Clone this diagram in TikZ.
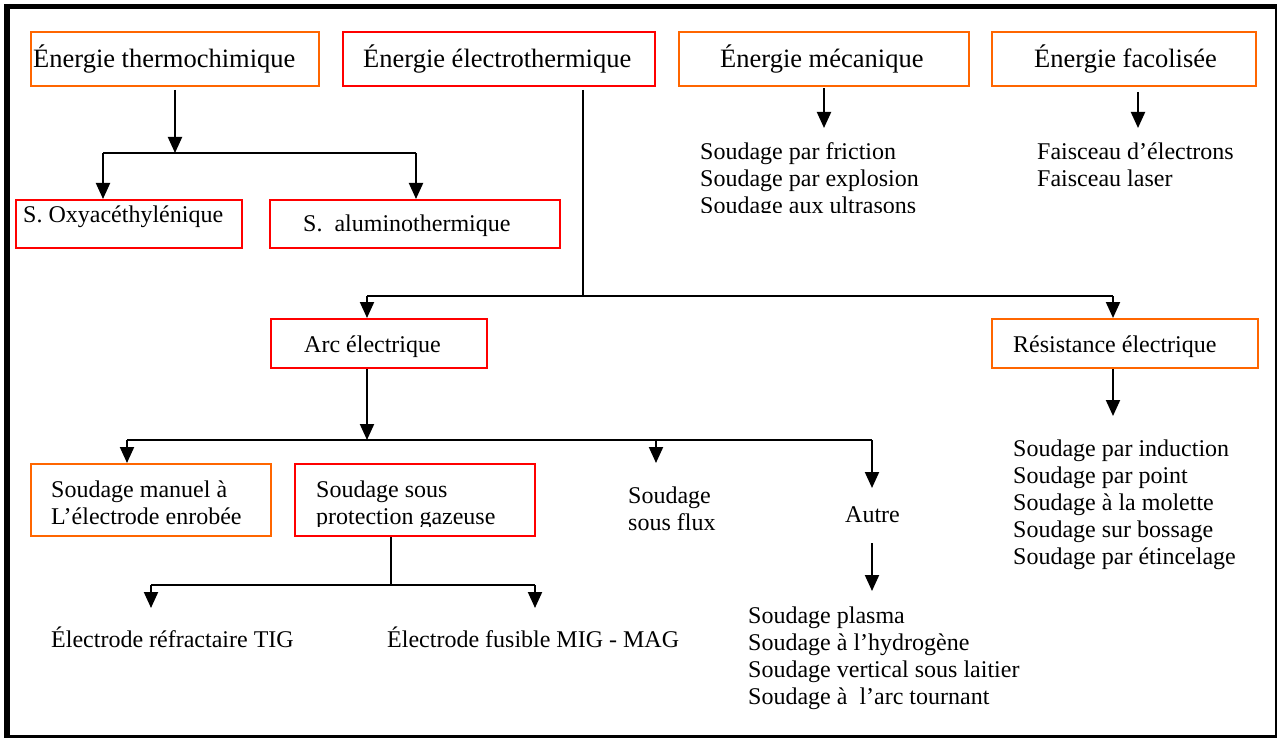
\documentclass[tikz,border=0pt]{standalone}
\usepackage{fontspec}
\setmainfont{Liberation Serif}
\usetikzlibrary{arrows.meta}
\definecolor{bred}{RGB}{255,0,0}
\definecolor{borange}{RGB}{255,102,0}
\newcommand\titlefnt{\fontsize{26.5}{30}\selectfont}
\newcommand\bodyfnt{\fontsize{24}{27}\selectfont}
\newcommand\mylines[1]{\begin{tabular}[t]{@{}l@{}}#1\end{tabular}}
\renewcommand{\arraystretch}{1}
\begin{document}
\begin{tikzpicture}[x=1pt,y=-1pt,
  box/.style={draw=#1, line width=2pt, inner sep=0pt},
  ttl/.style={anchor=base west, inner sep=0pt, font=\titlefnt},
  txt/.style={anchor=base west, inner sep=0pt, font=\bodyfnt},
  conn/.style={line width=2pt},
  thin/.style={line width=1.5pt},
  arr/.style={line width=2pt, -{Triangle[length=16pt,width=14pt]}}]
\useasboundingbox (0,0) rectangle (1277,738);
% frame
\draw[line width=6pt] (7,4) -- (7,738);
\draw[line width=5pt] (4,7) -- (1277,7);
\draw[line width=2pt] (1276,7) -- (1276,738);
\draw[line width=3pt] (4,736.5) -- (1277,736.5);
% boxes
\node[box=borange, minimum width=288pt, minimum height=54pt] (thermo) at (175,59) {};
\node[box=bred, minimum width=312pt, minimum height=54pt] (electro) at (499,59) {};
\node[box=borange, minimum width=290pt, minimum height=54pt] (meca) at (824,59) {};
\node[box=borange, minimum width=264pt, minimum height=54pt] (faco) at (1124,59) {};
\node[box=bred, minimum width=226pt, minimum height=48pt] (oxy) at (129,224) {};
\node[box=bred, minimum width=290pt, minimum height=48pt] (alu) at (415,224) {};
\node[box=bred, minimum width=216pt, minimum height=49pt] (arc) at (379,343.5) {};
\node[box=borange, minimum width=266pt, minimum height=49pt] (resist) at (1125,343.5) {};
\node[box=borange, minimum width=240pt, minimum height=72pt] (manuel) at (151,500) {};
\node[box=bred, minimum width=240pt, minimum height=72pt] (protec) at (415,500) {};
% texts
\node[ttl] (thermoT) at (33,68) {Énergie thermochimique};
\node[ttl] (electroT) at (363,68) {Énergie électrothermique};
\node[ttl] (mecaT) at (720,68) {Énergie mécanique};
\node[ttl] (facoT) at (1034,68) {Énergie facolisée};
\node[txt] (oxyT) at (23,223) {S. Oxyacéthylénique};
\node[txt] (aluT) at (303,232) {S.\ \ aluminothermique};
\node[txt] (arcT) at (304,352) {Arc électrique};
\node[txt] (resistT) at (1013,352) {Résistance électrique};
\node[txt] (manuelT) at (51,497) {\mylines{Soudage manuel à\\L’électrode enrobée}};
\begin{scope}
\clip (300,470) rectangle (530,526);
\node[txt] (protecT) at (316,497) {\mylines{Soudage sous\\protection gazeuse}};
\end{scope}
\node[txt] (fluxT) at (628,503) {\mylines{Soudage\\sous flux}};
\node[txt] (autreT) at (845,522) {Autre};
\begin{scope}
\clip (690,130) rectangle (1000,213);
\node[txt] (mecaL) at (700,160) {\mylines{Soudage par friction\\Soudage par explosion\\Soudage aux ultrasons}};
\end{scope}
\node[txt] (facoL) at (1037,160) {\mylines{Faisceau d’électrons\\Faisceau laser}};
\node[txt] (resistL) at (1013,456) {\mylines{Soudage par induction\\Soudage par point\\Soudage à la molette\\Soudage sur bossage\\Soudage par étincelage}};
\node[txt] (autreL) at (748,623) {\mylines{Soudage plasma\\Soudage à l’hydrogène\\Soudage vertical sous laitier\\Soudage à \ l’arc tournant}};
\node[txt] (tigT) at (51,647) {Électrode réfractaire TIG};
\node[txt] (migT) at (387,647) {Électrode fusible MIG - MAG};
% junction coordinates
\coordinate (j1) at (175,153);
\coordinate (j1a) at (103,153);
\coordinate (j1b) at (416,153);
\coordinate (j2) at (583,296);
\coordinate (j2a) at (367,296);
\coordinate (j2b) at (1113,296);
\coordinate (j3) at (367,440);
\coordinate (j3a) at (127,440);
\coordinate (j3b) at (656,440);
\coordinate (j3c) at (872,440);
\coordinate (fluxA) at (656,463);
\coordinate (autreA) at (872,488);
\coordinate (resA) at (1113,416);
\coordinate (au1) at (872,543);
\coordinate (au2) at (872,591);
\coordinate (me1) at (824,88);
\coordinate (me2) at (824,128);
\coordinate (fa1) at (1138,92);
\coordinate (fa2) at (1138,128);
\coordinate (j4) at (391,585);
\coordinate (j4a) at (151,585);
\coordinate (j4b) at (535,585);
\coordinate (tigA) at (151,608);
\coordinate (migA) at (535,608);
% connectors
\draw[arr] ([yshift=-3pt]thermo.south) -- (j1);
\draw[conn] (j1a) -- (j1b);
\draw[arr] (j1a) -- (j1a |- oxy.north);
\draw[arr] (j1b) -- (j1b |- alu.north);
\draw[thin] ([yshift=-3pt]electro.south -| j2) -- (j2);
\draw[conn] (j2a) -- (j2b);
\draw[arr] (j2a) -- (j2a |- arc.north);
\draw[arr] (j2b) -- (j2b |- resist.north);
\draw[arr] (arc.south -| j3) -- (j3);
\draw[conn] (j3a) -- (j3c);
\draw[arr] (j3a) -- (j3a |- manuel.north);
\draw[arr] (j3b) -- (fluxA);
\draw[arr] (j3c) -- (autreA);
\draw[arr] (resist.south -| resA) -- (resA);
\draw[arr] (au1) -- (au2);
\draw[arr] (me1) -- (me2);
\draw[arr] (fa1) -- (fa2);
\draw[conn] (protec.south -| j4) -- (j4);
\draw[conn] (j4a) -- (j4b);
\draw[arr] (j4a) -- (tigA);
\draw[arr] (j4b) -- (migA);
\end{tikzpicture}
\end{document}
